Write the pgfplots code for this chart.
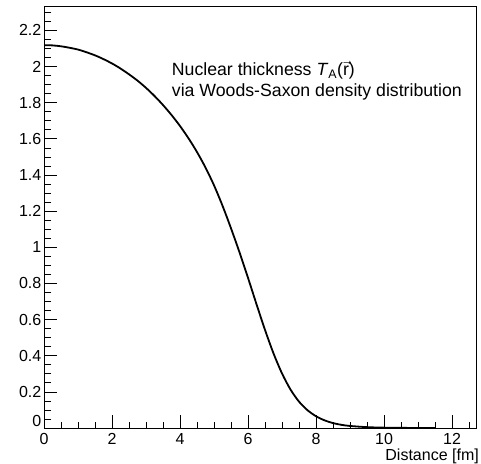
\documentclass[border=0pt]{standalone}
\usepackage{fontspec}
\setmainfont{Liberation Sans}
\usepackage{pgfplots}
\pgfplotsset{compat=1.18}
\pgfplotstableread{
x y
0 2.118
0.25 2.117
0.5 2.112
0.75 2.104
1 2.094
1.25 2.079
1.5 2.062
1.75 2.041
2 2.017
2.25 1.989
2.5 1.957
2.75 1.922
3 1.882
3.25 1.837
3.5 1.787
3.75 1.732
4 1.671
4.25 1.603
4.5 1.527
4.75 1.441
5 1.343
5.25 1.230
5.5 1.105
5.75 0.972
6 0.831
6.25 0.685
6.5 0.543
6.75 0.413
7 0.302
7.25 0.213
7.5 0.146
7.75 0.0985
8 0.0651
8.25 0.0425
8.5 0.0272
8.75 0.0175
9 0.0113
9.5 0.00468
10 0.00192
10.5 0.00079
11 0.00032
11.5 0.00013
}\thick
\begin{document}
\begin{tikzpicture}
\begin{axis}[
  at={(0,0)}, anchor=south west,
  scale only axis, width=432pt, height=422pt,
  xmin=0, xmax=12.706, ymin=0, ymax=2.335,
  axis line style={line width=0.9pt},
  tick align=inside, tick pos=left,
  xtick={0,2,4,6,8,10,12}, xticklabels={0,2,4,6,8,10,12},
  minor xtick={0.5,1,1.5,2.5,3,3.5,4.5,5,5.5,6.5,7,7.5,8.5,9,9.5,10.5,11,11.5,12.5},
  ytick={0.2,0.4,0.6,0.8,1,1.2,1.4,1.6,1.8,2,2.2},
  yticklabels={0.2,0.4,0.6,0.8,1,1.2,1.4,1.6,1.8,2,2.2},
  extra y ticks={0}, extra y tick labels={0},
  extra y tick style={yticklabel style={yshift=7pt}},
  minor ytick={0.05,0.1,0.15,0.25,0.3,0.35,0.45,0.5,0.55,0.65,0.7,0.75,0.85,0.9,0.95,1.05,1.1,1.15,1.25,1.3,1.35,1.45,1.5,1.55,1.65,1.7,1.75,1.85,1.9,1.95,2.05,2.1,2.15,2.25,2.3},
  major tick length=13pt, minor tick length=6.5pt,
  tick style={black, line width=0.7pt},
  ticklabel style={font=\fontsize{16}{16}\selectfont, inner sep=0pt},
  xticklabel style={yshift=-5pt},
  yticklabel style={xshift=-2.5pt},
  xlabel={Distance [fm]},
  xlabel style={at={(rel axis cs:1,0)}, anchor=base east, yshift=-32pt, xshift=3pt, font=\fontsize{16}{16}\selectfont, inner sep=0pt},
]
\addplot[black, line width=1.8pt, smooth, mark=none] table[x=x, y=y] {\thick};
\node[anchor=base west, font=\fontsize{17.7}{20}\selectfont, inner sep=0pt] at (axis cs:3.756,1.948) {Nuclear thickness \textit{T}\textsubscript{A}($\vec{\hbox{r}}$)};
\node[anchor=base west, font=\fontsize{17.7}{20}\selectfont, inner sep=0pt] at (axis cs:3.756,1.833) {via Woods-Saxon density distribution};
\end{axis}
\pgfresetboundingbox
\path[use as bounding box] (-44pt,-35pt) rectangle (437pt,428pt);
\end{tikzpicture}
\end{document}
